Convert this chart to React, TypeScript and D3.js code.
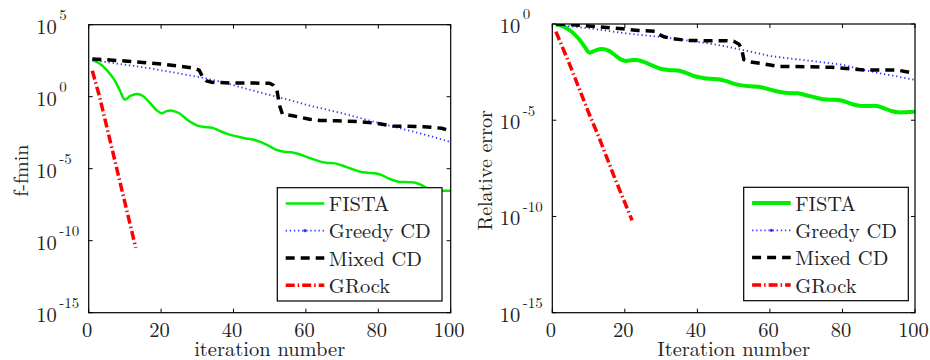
import React from 'react';
import * as d3 from 'd3';

const FONT = '"Latin Modern Roman"';

// ---------- data (iteration, log10 of value) ----------
const xTicks = [0, 20, 40, 60, 80, 100];
const leftYTickExps = [5, 0, -5, -10, -15];
const rightYTickExps = [0, -5, -10, -15];
const seriesNames = ['FISTA', 'Greedy CD', 'Mixed CD', 'GRock'];

// Left panel: f - fmin
const leftFista: [number, number][] = [
  [1, 2.55], [3, 2.3], [5, 1.85], [7, 1.2], [8.5, 0.5], [10, -0.2], [11.5, 0.05], [13.3, 0.19],
  [15, 0.05], [17, -0.45], [18.8, -0.95], [20.2, -1.15], [21.5, -1.0], [23, -0.97], [25, -1.15],
  [27.5, -1.65], [30.3, -2.03], [32, -2.1], [34, -2.15], [36, -2.35], [38.5, -2.6], [41.3, -2.78],
  [43, -2.88], [45, -2.96], [47, -3.1], [49.5, -3.38], [52, -3.7], [54, -3.82], [56, -3.86],
  [58, -3.98], [61, -4.25], [64, -4.51], [66, -4.6], [68, -4.63], [70, -4.78], [72.5, -5.0],
  [75, -5.21], [77, -5.28], [79, -5.32], [81, -5.45], [83, -5.7], [85.5, -5.9], [87.5, -5.93],
  [90, -5.96], [92, -6.15], [94, -6.4], [96, -6.5], [98, -6.53], [100, -6.53],
];
const leftGreedy: [number, number][] = [
  [1, 2.55], [5, 2.4], [10, 2.22], [17, 1.97], [23, 1.7], [30, 1.39], [35, 1.12], [40, 0.8],
  [45, 0.45], [50, 0.12], [55, -0.2], [60, -0.55], [65, -0.85], [70, -1.15], [77, -1.62],
  [86, -2.2], [90, -2.45], [95, -2.78], [100, -3.15],
];
const leftMixed: [number, number][] = [
  [1, 2.62], [5, 2.56], [10, 2.48], [15, 2.38], [20, 2.27], [25, 2.13], [29, 1.98], [30.5, 1.85],
  [31.5, 1.35], [32.5, 1.1], [34, 1.0], [40, 0.95], [45, 0.95], [50, 0.93], [51, 0.8], [52, 0.45],
  [52.7, -0.6], [53.5, -1.2], [56, -1.3], [61, -1.57], [64, -1.65], [68.5, -1.67], [75, -1.74],
  [79.5, -1.85], [84, -2.03], [92.4, -2.08], [97.5, -2.19], [99, -2.31],
];
const leftGrock: [number, number][] = [
  [1, 1.8], [3, 0.0], [5, -2.1], [7, -4.2], [9, -6.3], [11, -8.4], [13, -10.5],
];

// Right panel: relative error
const rightFista: [number, number][] = [
  [1, -0.03], [3, -0.12], [5, -0.35], [7, -0.7], [9, -1.2], [10.2, -1.49], [11.8, -1.38],
  [13.6, -1.3], [15.5, -1.38], [17.5, -1.65], [19, -1.85], [20.3, -1.92], [21.8, -1.88],
  [23.3, -1.87], [25, -1.95], [27.5, -2.15], [30.1, -2.34], [32.5, -2.4], [34.7, -2.42],
  [37, -2.55], [39, -2.7], [41.2, -2.79], [43.5, -2.85], [45.8, -2.87], [48, -2.97], [50, -3.1],
  [52.2, -3.19], [54.5, -3.24], [56.8, -3.26], [59, -3.35], [61.5, -3.48], [64.1, -3.57],
  [66, -3.6], [67.8, -3.6], [70, -3.7], [72.5, -3.82], [74.7, -3.91], [77, -3.94], [78.9, -3.95],
  [81, -4.05], [83, -4.18], [85.3, -4.26], [87.5, -4.26], [89.4, -4.26], [91.5, -4.38],
  [93.5, -4.52], [95.4, -4.59], [97.5, -4.58], [100, -4.56],
];
const rightGreedy: [number, number][] = [
  [1, -0.05], [5, -0.12], [10, -0.22], [15, -0.35], [20, -0.48], [25, -0.58], [31, -0.69],
  [35, -0.8], [40, -0.92], [45, -1.07], [50, -1.25], [55, -1.45], [60, -1.66], [65, -1.78],
  [70, -1.89], [75, -2.0], [80, -2.12], [86, -2.39], [90, -2.55], [95, -2.72], [100, -2.91],
];
const rightMixed: [number, number][] = [
  [1, 0], [5, -0.03], [10, -0.1], [15, -0.18], [19.3, -0.25], [23.7, -0.34], [28.5, -0.38],
  [29.5, -0.55], [31, -0.68], [34, -0.78], [37, -0.85], [42, -0.87], [48, -0.87], [50, -0.9],
  [51.5, -1.05], [52.3, -1.35], [52.8, -1.85], [54, -1.96], [58.6, -2.08], [62, -2.2], [70, -2.22],
  [77, -2.25], [82, -2.33], [86, -2.39], [95, -2.39], [99, -2.53],
];
const rightGrock: [number, number][] = [
  [1, -0.4], [5, -2.2], [10, -4.6], [13, -5.95], [17, -7.9], [22, -10.2],
];

// ---------- styles ----------
type Sty = { color: string; width: number; dash?: string; curve: boolean };
const leftStyles: Sty[] = [
  { color: '#00ee00', width: 2.5, curve: true },
  { color: '#3333ff', width: 1.8, dash: '1.3,2.8', curve: false },
  { color: '#000000', width: 3.5, dash: '9,6', curve: false },
  { color: '#ff0000', width: 3.5, dash: '9,3,1.5,3', curve: false },
];
const rightStyles: Sty[] = [
  { color: '#00ee00', width: 4, curve: true },
  { color: '#3333ff', width: 1.8, dash: '1.3,2.8', curve: false },
  { color: '#000000', width: 3.5, dash: '9,6', curve: false },
  { color: '#ff0000', width: 3.5, dash: '9,3,1.5,3', curve: false },
];

type PanelProps = {
  id: string;
  x0: number; x1: number; y0: number; y1: number;
  yMinExp: number; yMaxExp: number; yTickExps: number[];
  series: [number, number][][];
  styles: Sty[];
  xLabel: string; yLabel: string; yLabelX: number;
  legend: { x: number; y: number; w: number; h: number };
};

const txt = { fontFamily: FONT, fill: '#222' } as React.CSSProperties;

function Panel(p: PanelProps) {
  const x = d3.scaleLinear().domain([0, 100]).range([p.x0, p.x1]);
  const y = d3.scaleLog().domain([10 ** p.yMinExp, 10 ** p.yMaxExp]).range([p.y1, p.y0]);
  const tick = 4;
  const fs = 20.5;
  return (
    <g>
      <defs>
        <clipPath id={p.id}>
          <rect x={p.x0} y={p.y0} width={p.x1 - p.x0} height={p.y1 - p.y0} />
        </clipPath>
      </defs>
      <rect x={p.x0} y={p.y0} width={p.x1 - p.x0} height={p.y1 - p.y0} fill="#fff" />
      <g clipPath={`url(#${p.id})`}>
        {p.series.map((s, i) => {
          const st = p.styles[i];
          const line = d3
            .line<[number, number]>()
            .x((d) => x(d[0]))
            .y((d) => y(10 ** d[1]))
            .curve(st.curve ? d3.curveCatmullRom.alpha(0.5) : d3.curveLinear);
          return (
            <path
              key={i}
              d={line(s) || ''}
              fill="none"
              stroke={st.color}
              strokeWidth={st.width}
              strokeDasharray={st.dash}
              strokeLinejoin="round"
            />
          );
        })}
      </g>
      <rect x={p.x0} y={p.y0} width={p.x1 - p.x0} height={p.y1 - p.y0} fill="none" stroke="#000" strokeWidth={1.2} />
      {xTicks.map((t) => (
        <g key={'xt' + t}>
          <line x1={x(t)} x2={x(t)} y1={p.y1} y2={p.y1 - tick} stroke="#000" strokeWidth={1} />
          <line x1={x(t)} x2={x(t)} y1={p.y0} y2={p.y0 + tick} stroke="#000" strokeWidth={1} />
          <text x={x(t) - 1.5} y={336.5} textAnchor="middle" style={{ ...txt, fontSize: fs }}>
            {t}
          </text>
        </g>
      ))}
      {p.yTickExps.map((e) => {
        const yy = y(10 ** e);
        return (
          <g key={'yt' + e}>
            <line x1={p.x0} x2={p.x0 + tick} y1={yy} y2={yy} stroke="#000" strokeWidth={1} />
            <line x1={p.x1} x2={p.x1 - tick} y1={yy} y2={yy} stroke="#000" strokeWidth={1} />
            <text x={p.x0 - 52.5} y={yy + 8.8} style={{ ...txt, fontSize: fs }}>
              10
              <tspan dx={2.5} dy={-13.5} style={{ fontSize: 15 }}>
                {e < 0 ? '-' + Math.abs(e) : String(e)}
              </tspan>
            </text>
          </g>
        );
      })}
      <text x={(p.x0 + p.x1) / 2} y={356} textAnchor="middle" style={{ ...txt, fontSize: 20.5 }}>
        {p.xLabel}
      </text>
      <text
        transform={`translate(${p.yLabelX},${(p.y0 + p.y1) / 2 + 2}) rotate(-90)`}
        textAnchor="middle"
        style={{ ...txt, fontSize: 20 }}
      >
        {p.yLabel}
      </text>
      <g>
        <rect x={p.legend.x} y={p.legend.y} width={p.legend.w} height={p.legend.h} fill="#fff" stroke="#000" strokeWidth={1.2} />
        {seriesNames.map((n, i) => {
          const st = p.styles[i];
          const cy = p.legend.y + 15.7 + i * 27.3;
          return (
            <g key={n}>
              <line
                x1={p.legend.x + 8.4}
                x2={p.legend.x + 47}
                y1={cy}
                y2={cy}
                stroke={st.color}
                strokeWidth={st.width}
                strokeDasharray={st.dash}
              />
              {(i === 1 || i === 3) && (
                <circle cx={p.legend.x + 27.7} cy={cy} r={1.6} fill={st.color} />
              )}
              <text x={p.legend.x + 51.5} y={cy + 7.7} style={{ ...txt, fontSize: 20.5 }}>
                {n}
              </text>
            </g>
          );
        })}
      </g>
    </g>
  );
}

export default function App() {
  return (
    <svg
      width={930}
      height={360}
      style={{ position: 'absolute', left: 0, top: 0, background: '#fff' }}
    >
      <rect x={0} y={0} width={930} height={360} fill="#fff" />
      <Panel
        id="clipL"
        x0={88.7}
        x1={450.7}
        y0={24.7}
        y1={312.7}
        yMinExp={-15}
        yMaxExp={5}
        yTickExps={leftYTickExps}
        series={[leftFista, leftGreedy, leftMixed, leftGrock]}
        styles={leftStyles}
        xLabel="iteration number"
        yLabel="f-fmin"
        yLabelX={28}
        legend={{ x: 277.3, y: 187.7, w: 164.7, h: 113.3 }}
      />
      <Panel
        id="clipR"
        x0={552.3}
        x1={915}
        y0={24}
        y1={312.7}
        yMinExp={-15}
        yMaxExp={0}
        yTickExps={rightYTickExps}
        series={[rightFista, rightGreedy, rightMixed, rightGrock]}
        styles={rightStyles}
        xLabel="Iteration number"
        yLabel="Relative error"
        yLabelX={491.5}
        legend={{ x: 743.7, y: 187.3, w: 164.6, h: 113.4 }}
      />
    </svg>
  );
}
